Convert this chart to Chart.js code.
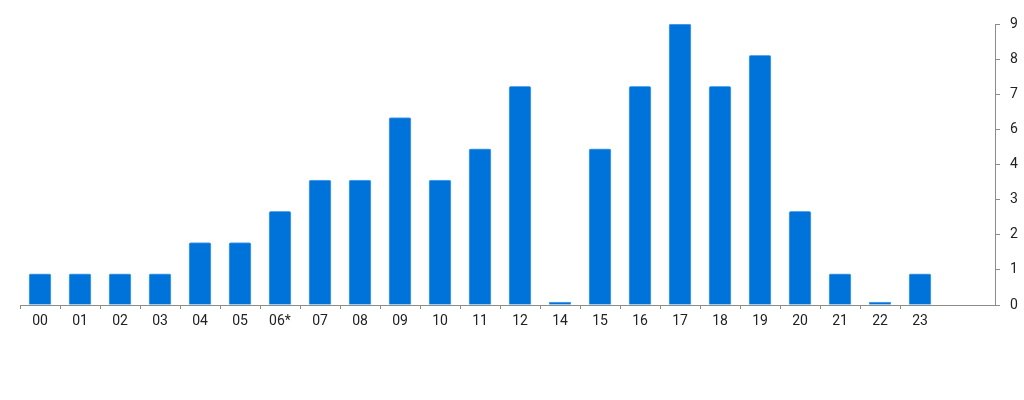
<!DOCTYPE html>
<html>
<head>
<meta charset="utf-8">
<script src="https://cdn.jsdelivr.net/npm/chart.js@4/dist/chart.umd.min.js"></script>
<style>
html,body{margin:0;padding:0;background:#fff;}
#wrap{width:1024px;height:400px;position:relative;}
</style>
</head>
<body>
<div id="wrap"><canvas id="c"></canvas></div>
<script>
const xLabels = ['00','01','02','03','04','05','06*','07','08','09','10','11','12','14','15','16','17','18','19','20','21','22','23'];
const values = [1,1,1,1,2,2,3,4,4,6,4,5,7,0,5,7,9,7,8,3,1,0,1];
const yTickLabels = ['0','1','2','3','4','6','7','8','9'];
const yMax = 9;

const axisColor = '#8c8c8c';
const textColor = '#222222';

new Chart(document.getElementById('c'), {
  type: 'bar',
  data: {
    datasets: [{
      data: values.map((v, i) => ({x: i, y: v})),
      backgroundColor: '#0073da',
      borderColor: '#5aa5eb',
      borderWidth: 1,
      borderRadius: 2,
      borderSkipped: 'bottom',
      minBarLength: 3,
      barThickness: 22
    }]
  },
  options: {
    responsive: true,
    maintainAspectRatio: false,
    animation: false,
    devicePixelRatio: 1,
    layout: {padding: {left: 20, top: 24, right: 0, bottom: 0}},
    plugins: {legend: {display: false}, tooltip: {enabled: false}},
    scales: {
      x: {
        type: 'linear',
        offset: false,
        min: -0.5,
        max: 23.875,
        afterBuildTicks: (sc) => {
          const t = [];
          for (let i = 0; i < xLabels.length; i++) {
            t.push({value: i - 0.5});
            t.push({value: i});
          }
          sc.ticks = t;
        },
        afterFit: (sc) => { sc.height = 95; },
        ticks: {
          autoSkip: false,
          maxRotation: 0,
          minRotation: 0,
          padding: 4,
          color: textColor,
          font: {family: 'Roboto', size: 14},
          callback: (v) => Number.isInteger(v) ? xLabels[v] : ''
        },
        grid: {
          offset: false,
          drawOnChartArea: false,
          drawTicks: true,
          tickLength: 4,
          tickColor: (ctx) => (ctx.tick && Number.isInteger(ctx.tick.value)) ? 'rgba(0,0,0,0)' : axisColor
        },
        border: {display: true, color: axisColor, width: 1}
      },
      y: {
        position: 'right',
        min: 0,
        max: yMax,
        afterFit: (sc) => { sc.width = 29; },
        ticks: {
          count: yTickLabels.length,
          padding: 10,
          color: textColor,
          font: {family: 'Roboto', size: 14},
          callback: (v, i) => yTickLabels[i]
        },
        grid: {
          drawOnChartArea: false,
          drawTicks: true,
          tickLength: 5,
          tickColor: axisColor
        },
        border: {display: true, color: axisColor, width: 1}
      }
    }
  }
});
</script>
</body>
</html>
